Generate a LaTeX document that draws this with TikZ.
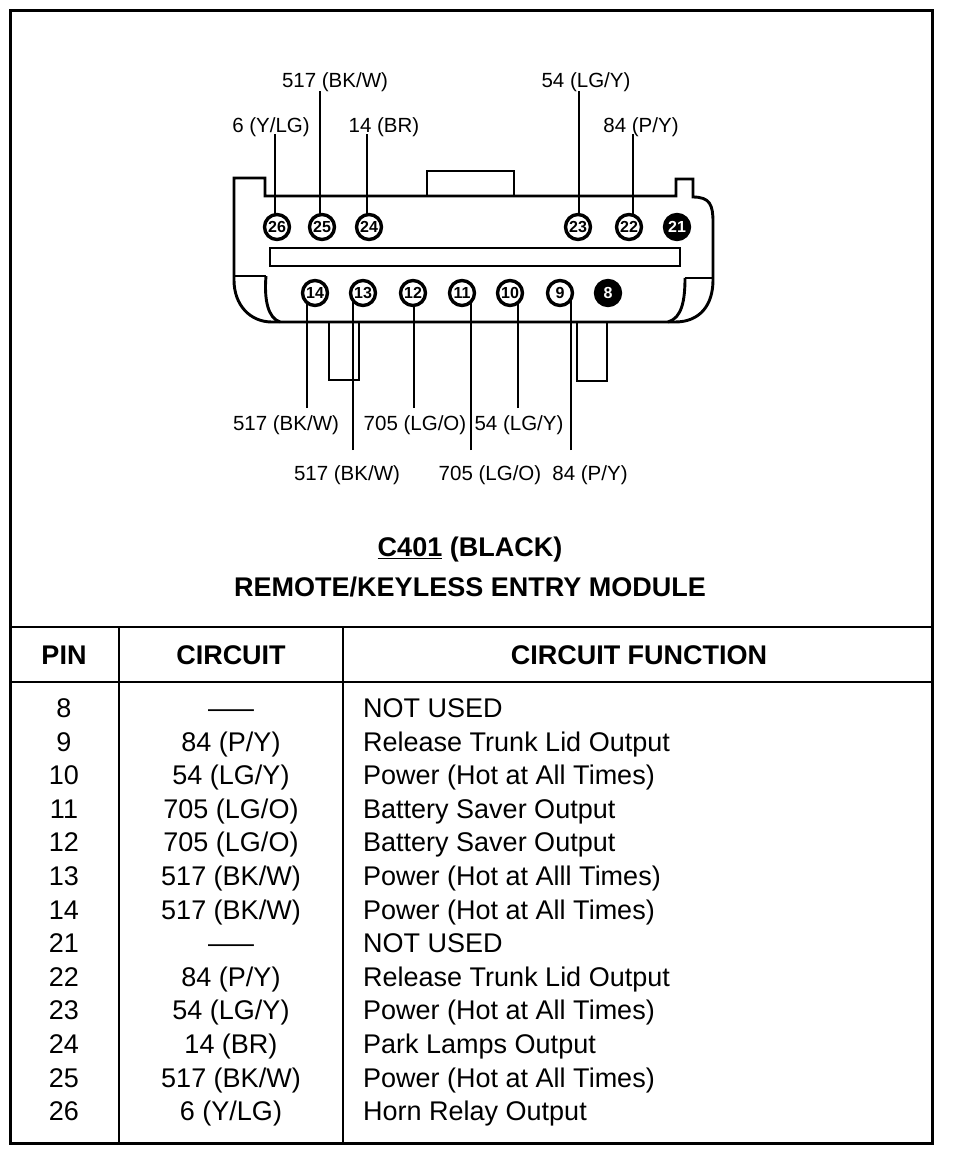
\documentclass[tikz,border=0pt]{standalone}
\usepackage{fontspec}
\usepackage{graphicx}
\setmainfont{Liberation Sans}
\pgfdeclarelayer{bg}
\pgfsetlayers{bg,main}
\newcommand{\tabrow}[4]{%
  \node[tcell] (pin#1) at (64,#2) {#1};
  \node[tcell] (cir#1) at (231,#2) {#3};
  \node[tcell,anchor=west] (fun#1) at (363,#2) {#4};}
\begin{document}
\begin{tikzpicture}[x=1pt,y=-1pt,
  pinw/.style={circle,draw,line width=3.4pt,minimum size=25pt,inner sep=0pt,fill=white,
     font=\fontsize{16}{16}\selectfont\bfseries,text height=11.5pt,text depth=0pt},
  pinb/.style={pinw,fill=black,text=white},
  wirelab/.style={font=\fontsize{20.5}{22}\selectfont,inner sep=0pt,text height=14.7pt,text depth=0pt},
  leader/.style={line width=2.6pt},
  shell/.style={line width=2.9pt,line join=miter},
  tcell/.style={font=\fontsize{27}{30}\selectfont,inner sep=0pt,text height=19.3pt,text depth=0pt},
  thead/.style={font=\fontsize{27}{30}\selectfont\bfseries,inner sep=0pt,text height=19.3pt,text depth=0pt},
  grid/.style={line width=2.4pt}]
\useasboundingbox (0,0) rectangle (960,1154);
% frame and table rules
\draw[line width=3pt] (10,10) rectangle (932,1143);
\draw[grid] (10,627) -- (932,627);
\draw[grid] (10,682) -- (932,682);
\draw[grid] (119,627) -- (119,1143);
\draw[grid] (343,627) -- (343,1143);
% connector shell
\draw[shell] (265,196) -- (265,178) -- (234,178) -- (234,280)
  .. controls (234,305) and (250,322) .. (272,322) -- (675,322)
  .. controls (700,322) and (713,305) .. (713,280) -- (713,222)
  .. controls (713,205) and (710,197) .. (693,197) -- (693,179) -- (676,179) -- (676,196) -- cycle;
\draw[shell] (266,276) .. controls (264,300) and (268,318) .. (280,322);
\draw[shell] (685,278) .. controls (685,300) and (682,318) .. (668,322);
\draw[line width=1.6pt] (234,276) -- (266,276);
\draw[shell] (685,278) -- (713,278);
\draw[shell] (270,248) rectangle (680,266);
\draw[shell] (427,196) -- (427,171) -- (514,171) -- (514,196);
\draw[shell] (329,322) -- (329,380) -- (359,380) -- (359,322);
\draw[shell] (577,322) -- (577,381) -- (607,381) -- (607,322);
% pins
\node[pinw] (p26) at (277,227) {26};
\node[pinw] (p25) at (322,227) {25};
\node[pinw] (p24) at (369,227) {24};
\node[pinw] (p23) at (578,227) {23};
\node[pinw] (p22) at (629,227) {22};
\node[pinb] (p21) at (677,227) {21};
\node[pinw] (p14) at (315,293) {14};
\node[pinw] (p13) at (363,293) {13};
\node[pinw] (p12) at (413,293) {12};
\node[pinw] (p11) at (462,293) {11};
\node[pinw] (p10) at (510,293) {10};
\node[pinw] (p9) at (560,293) {9};
\node[pinb] (p8) at (608,293) {8};
% wire labels
\node[wirelab] (t25) at (335,80) {517 (BK/W)};
\node[wirelab] (t26) at (271,125) {6 (Y/LG)};
\node[wirelab] (t24) at (384,125) {14 (BR)};
\node[wirelab] (t23) at (586,80) {54 (LG/Y)};
\node[wirelab] (t22) at (641,125) {84 (P/Y)};
\node[wirelab] (b14) at (286,423) {517 (BK/W)};
\node[wirelab] (b12) at (415,423) {705 (LG/O)};
\node[wirelab] (b10) at (519,423) {54 (LG/Y)};
\node[wirelab] (b13) at (347,473) {517 (BK/W)};
\node[wirelab] (b11) at (490,473) {705 (LG/O)};
\node[wirelab] (b9) at (590,473) {84 (P/Y)};
% leader ends
\coordinate (w26) at (275,134);
\coordinate (w25) at (320,91);
\coordinate (w24) at (367,134);
\coordinate (w23) at (579,91);
\coordinate (w22) at (633,134);
\coordinate (w14) at (307,408);
\coordinate (w13) at (353,450);
\coordinate (w12) at (414,408);
\coordinate (w11) at (471,450);
\coordinate (w10) at (518,408);
\coordinate (w9) at (571,450);
\begin{pgfonlayer}{bg}
\foreach \n in {26,25,24,23,22,14,13,12,11,10,9}
  \draw[leader] (w\n) -- (w\n |- p\n.center);
\end{pgfonlayer}
% titles
\node[thead] (ttl) at (470,547) {\underline{C401} (BLACK)};
\node[thead] (sub) at (470,587) {REMOTE/KEYLESS ENTRY MODULE};
% table header
\node[thead] (hpin) at (64,655) {PIN};
\node[thead] (hcir) at (231,655) {CIRCUIT};
\node[thead] (hfun) at (639,655) {CIRCUIT FUNCTION};
% rows
\tabrow{8}{708}{\scalebox{1.7}[1]{—}}{NOT USED}
\tabrow{9}{741.6}{84 (P/Y)}{Release Trunk Lid Output}
\tabrow{10}{775.2}{54 (LG/Y)}{Power (Hot at All Times)}
\tabrow{11}{808.7}{705 (LG/O)}{Battery Saver Output}
\tabrow{12}{842.3}{705 (LG/O)}{Battery Saver Output}
\tabrow{13}{875.9}{517 (BK/W)}{Power (Hot at Alll Times)}
\tabrow{14}{909.5}{517 (BK/W)}{Power (Hot at All Times)}
\tabrow{21}{943.1}{\scalebox{1.7}[1]{—}}{NOT USED}
\tabrow{22}{976.6}{84 (P/Y)}{Release Trunk Lid Output}
\tabrow{23}{1010.2}{54 (LG/Y)}{Power (Hot at All Times)}
\tabrow{24}{1043.8}{14 (BR)}{Park Lamps Output}
\tabrow{25}{1077.4}{517 (BK/W)}{Power (Hot at All Times)}
\tabrow{26}{1111}{6 (Y/LG)}{Horn Relay Output}
\end{tikzpicture}
\end{document}
